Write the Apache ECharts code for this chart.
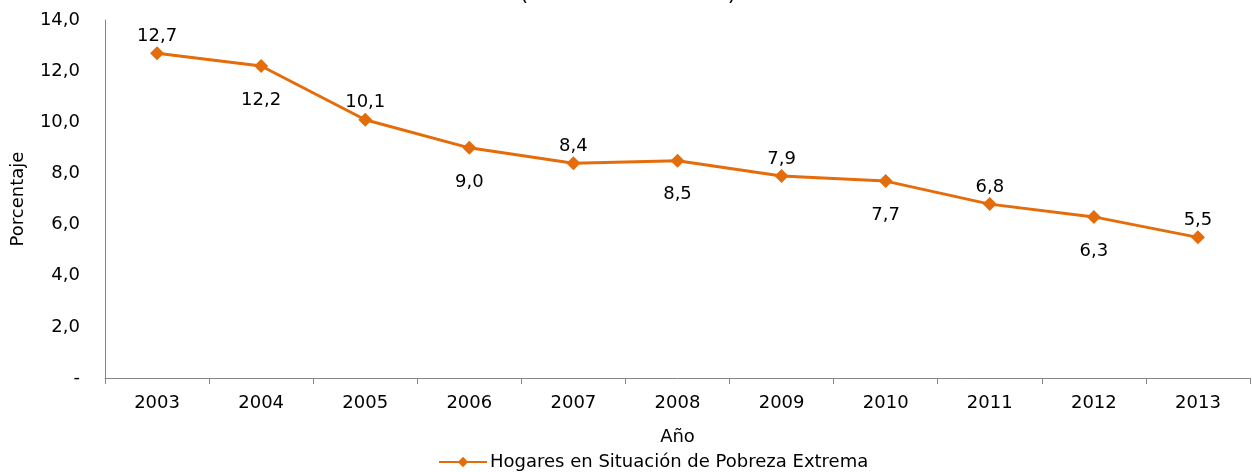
<!DOCTYPE html>
<html>
<head>
<meta charset="utf-8">
<script src="https://cdn.jsdelivr.net/npm/echarts@6/dist/echarts.min.js"></script>
<style>
  html, body { margin: 0; padding: 0; background: #fff; }
  #chart { width: 1252px; height: 472px; }
</style>
</head>
<body>
<div id="chart"></div>
<script>
const years = ['2003', '2004', '2005', '2006', '2007', '2008', '2009', '2010', '2011', '2012', '2013']
const values = [12.7, 12.2, 10.1, 9.0, 8.4, 8.5, 7.9, 7.7, 6.8, 6.3, 5.5]
// label above (true) or below (false) the point
const labelAbove = [true, false, true, false, true, false, true, false, true, false, true]

const FONT = '"DejaVu Sans"'
const FS = 18
const ORANGE = '#E46C0A'
const fmt = v => v === 0 ? '-' : v.toFixed(1).replace('.', ',')

const chart = echarts.init(document.getElementById('chart'))
chart.setOption({
  backgroundColor: '#fff',
  animation: false,
  textStyle: { fontFamily: FONT },
  // title is cut off by the top edge in the original
  graphic: [{
    type: 'text',
    x: 628,
    y: 5,
    style: {
      text: '(Periodo 2003-2013)',
      fontFamily: FONT,
      fontSize: 21,
      fill: '#000',
      textAlign: 'center',
      textVerticalAlign: 'bottom'
    }
  }],
  legend: {
    top: 448,
    left: 433,
    padding: 5,
    itemWidth: 48,
    itemHeight: 13,
    itemGap: 0,
    textStyle: { fontFamily: FONT, fontSize: FS, color: '#000', padding: [0, 0, 0, -2] },
    data: ['Hogares en Situación de Pobreza Extrema']
  },
  grid: { left: 105, right: 2, top: 20, bottom: 94, containLabel: false },
  xAxis: {
    type: 'category',
    data: years,
    boundaryGap: true,
    name: 'Año',
    nameLocation: 'middle',
    nameGap: 50,
    nameTextStyle: { fontFamily: FONT, fontSize: FS, color: '#000' },
    axisLine: { lineStyle: { color: '#868686', width: 1 } },
    axisTick: { show: true, length: 6, inside: false, lineStyle: { color: '#868686' } },
    axisLabel: { fontFamily: FONT, fontSize: FS, color: '#000', margin: 16 }
  },
  yAxis: {
    type: 'value',
    min: 0,
    max: 14,
    interval: 2,
    name: 'Porcentaje',
    nameLocation: 'middle',
    nameGap: 78,
    nameTextStyle: { fontFamily: FONT, fontSize: FS, color: '#000' },
    axisLine: { show: true, lineStyle: { color: '#868686', width: 1 } },
    axisTick: { show: false },
    splitLine: { show: false },
    axisLabel: { fontFamily: FONT, fontSize: FS, color: '#000', margin: 25, formatter: fmt }
  },
  series: [{
    name: 'Hogares en Situación de Pobreza Extrema',
    type: 'line',
    data: values.map((v, i) => ({
      value: v,
      label: {
        position: labelAbove[i] ? 'top' : 'bottom',
        distance: labelAbove[i] ? 1 : 18
      }
    })),
    symbol: 'diamond',
    symbolSize: 14,
    lineStyle: { color: ORANGE, width: 3 },
    itemStyle: { color: ORANGE },
    label: {
      show: true,
      fontFamily: FONT,
      fontSize: FS,
      color: '#000',
      formatter: p => fmt(p.value)
    }
  }]
})
</script>
</body>
</html>
